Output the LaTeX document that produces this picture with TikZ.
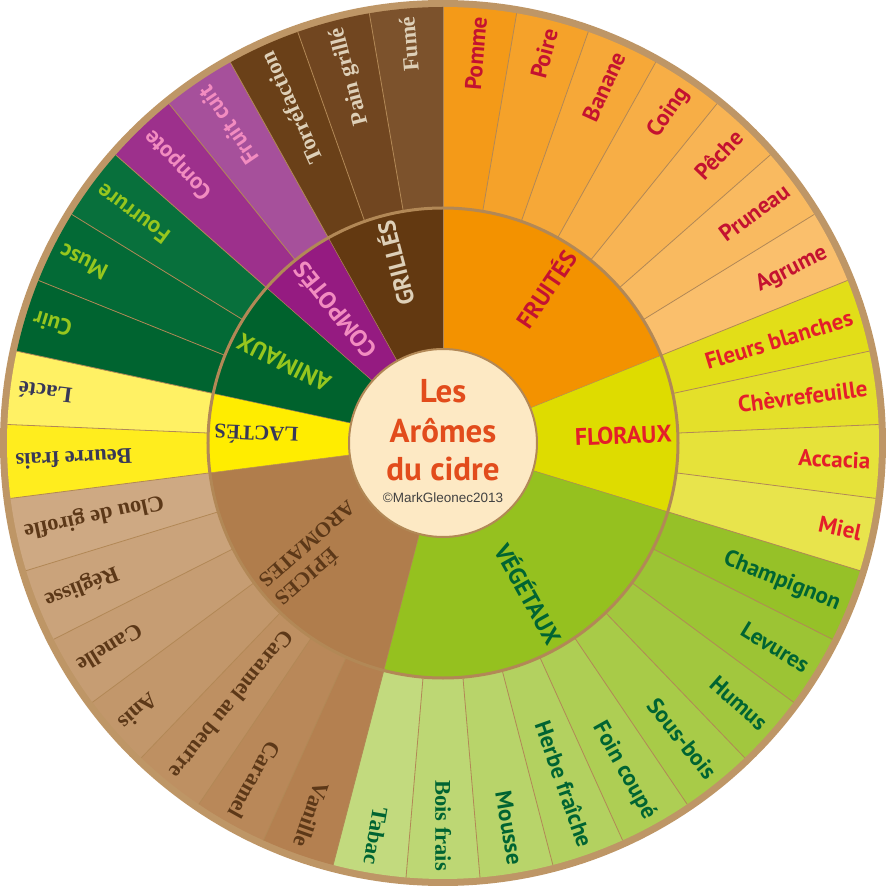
\documentclass[tikz,border=0pt]{standalone}
\usepackage{fontspec}
\setmainfont{PT Sans}
\newfontfamily\lblserif{Liberation Serif}
\newfontfamily\lblarial{Liberation Sans}
\definecolor{rimcol}{RGB}{190,150,102}
\definecolor{divcol}{RGB}{178,136,86}
\definecolor{centrecol}{RGB}{253,233,196}
\definecolor{titlecol}{RGB}{226,76,28}
\definecolor{copycol}{RGB}{66,66,66}
\definecolor{txfruit}{RGB}{196,18,48}
\definecolor{txflor}{RGB}{228,30,42}
\definecolor{txveg}{RGB}{0,100,50}
\definecolor{txepice}{RGB}{92,56,24}
\definecolor{txlact}{RGB}{56,56,88}
\definecolor{txanim}{RGB}{150,198,30}
\definecolor{txcomp}{RGB}{242,140,192}
\definecolor{txgrill}{RGB}{222,208,184}
\tikzset{
  olbl/.style={font=\fontsize{23}{23}\selectfont\bfseries, inner sep=0pt, text height=15.5pt, text depth=0pt},
  olblserif/.style={font=\lblserif\fontsize{22.5}{22.5}\selectfont\bfseries, inner sep=0pt, text height=15pt, text depth=0pt},
  ilbl/.style={font=\fontsize{24}{24}\selectfont\bfseries, inner sep=0pt, text height=17pt, text depth=0pt},
  ilblserif/.style={font=\lblserif\fontsize{21}{24}\selectfont\bfseries, inner sep=0pt},
  fruitlbl/.style={olbl, text=txfruit},
  florlbl/.style={olbl, text=txflor},
  veglbl/.style={olbl, text=txveg},
  vegserif/.style={olblserif, text=txveg},
  epicelbl/.style={olblserif, text=txepice},
  lactlbl/.style={olblserif, text=txlact},
  animlbl/.style={olbl, text=txanim},
  complbl/.style={olbl, text=txcomp},
  grilllbl/.style={olblserif, text=txgrill},
  divline/.style={draw=divcol, line width=0.8pt},
  ringline/.style={draw=divcol, line width=3pt},
  titletext/.style={font=\fontsize{33}{33}\selectfont\bfseries, text=titlecol, inner sep=0pt, anchor=base},
}
\newcommand\oitem[4]{%
  \pgfmathsetmacro\angA{90-#1*360/37}%
  \pgfmathsetmacro\angB{90-(#1+1)*360/37}%
  \pgfmathsetmacro\angM{90-(#1+0.5)*360/37}%
  \definecolor{tmpfill}{RGB}{#2}%
  \fill[tmpfill] (0,0) -- (\angA:436) arc[start angle=\angA, end angle=\angB, radius=436] -- cycle;
  \node[#3, rotate=\angM, anchor=east] (o#1) at (\angM:428) {#4};
}
\newcommand\isect[7]{%
  \pgfmathsetmacro\angA{90-#1*360/37}%
  \pgfmathsetmacro\angB{90-#2*360/37}%
  \pgfmathsetmacro\angM{90-(#1+#2)*180/37}%
  \definecolor{tmpfill}{RGB}{#3}%
  \fill[tmpfill] (0,0) -- (\angA:235) arc[start angle=\angA, end angle=\angB, radius=235] -- cycle;
  \node[#4, rotate=\angM, anchor=east] (#6) at (\angM:#7) {#5};
}
\begin{document}
\begin{tikzpicture}[x=1pt,y=1pt]
\useasboundingbox (-443,-443) rectangle (443,443);
\fill[rimcol] (0,0) circle[radius=443];
% outer ring
\oitem{0}{244,154,24}{fruitlbl}{Pomme}
\oitem{1}{245,162,42}{fruitlbl}{Poire}
\oitem{2}{246,168,56}{fruitlbl}{Banane}
\oitem{3}{247,174,70}{fruitlbl}{Coing}
\oitem{4}{248,180,84}{fruitlbl}{Pêche}
\oitem{5}{249,186,96}{fruitlbl}{Pruneau}
\oitem{6}{250,191,108}{fruitlbl}{Agrume}
\oitem{7}{226,222,24}{florlbl}{Fleurs blanches}
\oitem{8}{228,224,42}{florlbl}{Chèvrefeuille}
\oitem{9}{230,226,58}{florlbl}{Accacia}
\oitem{10}{232,228,76}{florlbl}{Miel}
\oitem{11}{150,193,40}{veglbl}{Champignon}
\oitem{12}{156,196,52}{veglbl}{Levures}
\oitem{13}{162,199,62}{veglbl}{Humus}
\oitem{14}{168,203,72}{veglbl}{Sous-bois}
\oitem{15}{174,206,84}{veglbl}{Foin coupé}
\oitem{16}{179,209,96}{veglbl}{Herbe fraîche}
\oitem{17}{184,212,106}{veglbl}{Mousse}
\oitem{18}{189,215,116}{vegserif}{Bois frais}
\oitem{19}{194,218,126}{vegserif}{Tabac}
\oitem{20}{180,128,80}{epicelbl}{Vanille}
\oitem{21}{185,136,89}{epicelbl}{Caramel}
\oitem{22}{190,144,98}{epicelbl}{Caramel au beurre}
\oitem{23}{194,151,107}{epicelbl}{Anis}
\oitem{24}{198,157,115}{epicelbl}{Canelle}
\oitem{25}{202,163,123}{epicelbl}{Réglisse}
\oitem{26}{206,169,131}{epicelbl}{Clou de girofle}
\oitem{27}{255,237,30}{lactlbl}{Beurre frais}
\oitem{28}{255,241,100}{lactlbl}{Lacté}
\oitem{29}{0,100,48}{animlbl}{Cuir}
\oitem{30}{3,106,54}{animlbl}{Musc}
\oitem{31}{8,112,60}{animlbl}{Fourrure}
\oitem{32}{157,48,140}{complbl}{Compote}
\oitem{33}{166,80,155}{complbl}{Fruit cuit}
\oitem{34}{106,64,24}{grilllbl}{Torréfaction}
\oitem{35}{113,70,32}{grilllbl}{Pain grillé}
\oitem{36}{124,82,44}{grilllbl}{Fumé}
% dividers in outer ring
\foreach \k in {0,...,36}{
  \pgfmathsetmacro\angD{90-\k*360/37}
  \draw[divline] (\angD:235) -- (\angD:436);
}
% inner ring
\isect{0}{7}{243,146,0}{ilbl, text=txfruit}{FRUITÉS}{ifruit}{229}
\isect{7}{11}{222,220,0}{ilbl, text=txflor}{FLORAUX}{iflor}{229}
\isect{11}{20}{149,193,31}{ilbl, text=txveg}{VÉGÉTAUX}{iveg}{229}
\isect{20}{27}{176,125,76}{ilblserif, text=txepice, align=right}{ÉPICES\\AROMATES}{iepice}{229}
\isect{27}{29}{255,237,0}{ilblserif, text=txlact}{LACTÉS}{ilact}{229}
\isect{29}{32}{0,98,45}{ilbl, text=txanim}{ANIMAUX}{ianim}{229}
\isect{32}{34}{149,27,129}{ilbl, text=txcomp}{COMPOTÉS}{icomp}{229}
\isect{34}{37}{99,57,17}{ilbl, text=txgrill}{GRILLÉS}{igrill}{229}
\foreach \k in {0,7,11,20,27,29,32,34}{
  \pgfmathsetmacro\angD{90-\k*360/37}
  \draw[divcol, line width=0.5pt] (\angD:94) -- (\angD:235);
}
\draw[ringline] (0,0) circle[radius=235];
% centre
\node[circle, fill=centrecol, draw=divcol, line width=2pt, minimum size=188pt, inner sep=0pt] (centre) at (0,0) {};
\node[titletext] (t1) at (0,40) {Les};
\node[titletext] (t2) at (0,1) {Arômes};
\node[titletext] (t3) at (0,-37) {du cidre};
\node[font=\lblarial\fontsize{13.5}{13.5}\selectfont, text=copycol, inner sep=0pt, anchor=base] (copy) at (0,-59) {©MarkGleonec2013};
\end{tikzpicture}
\end{document}
